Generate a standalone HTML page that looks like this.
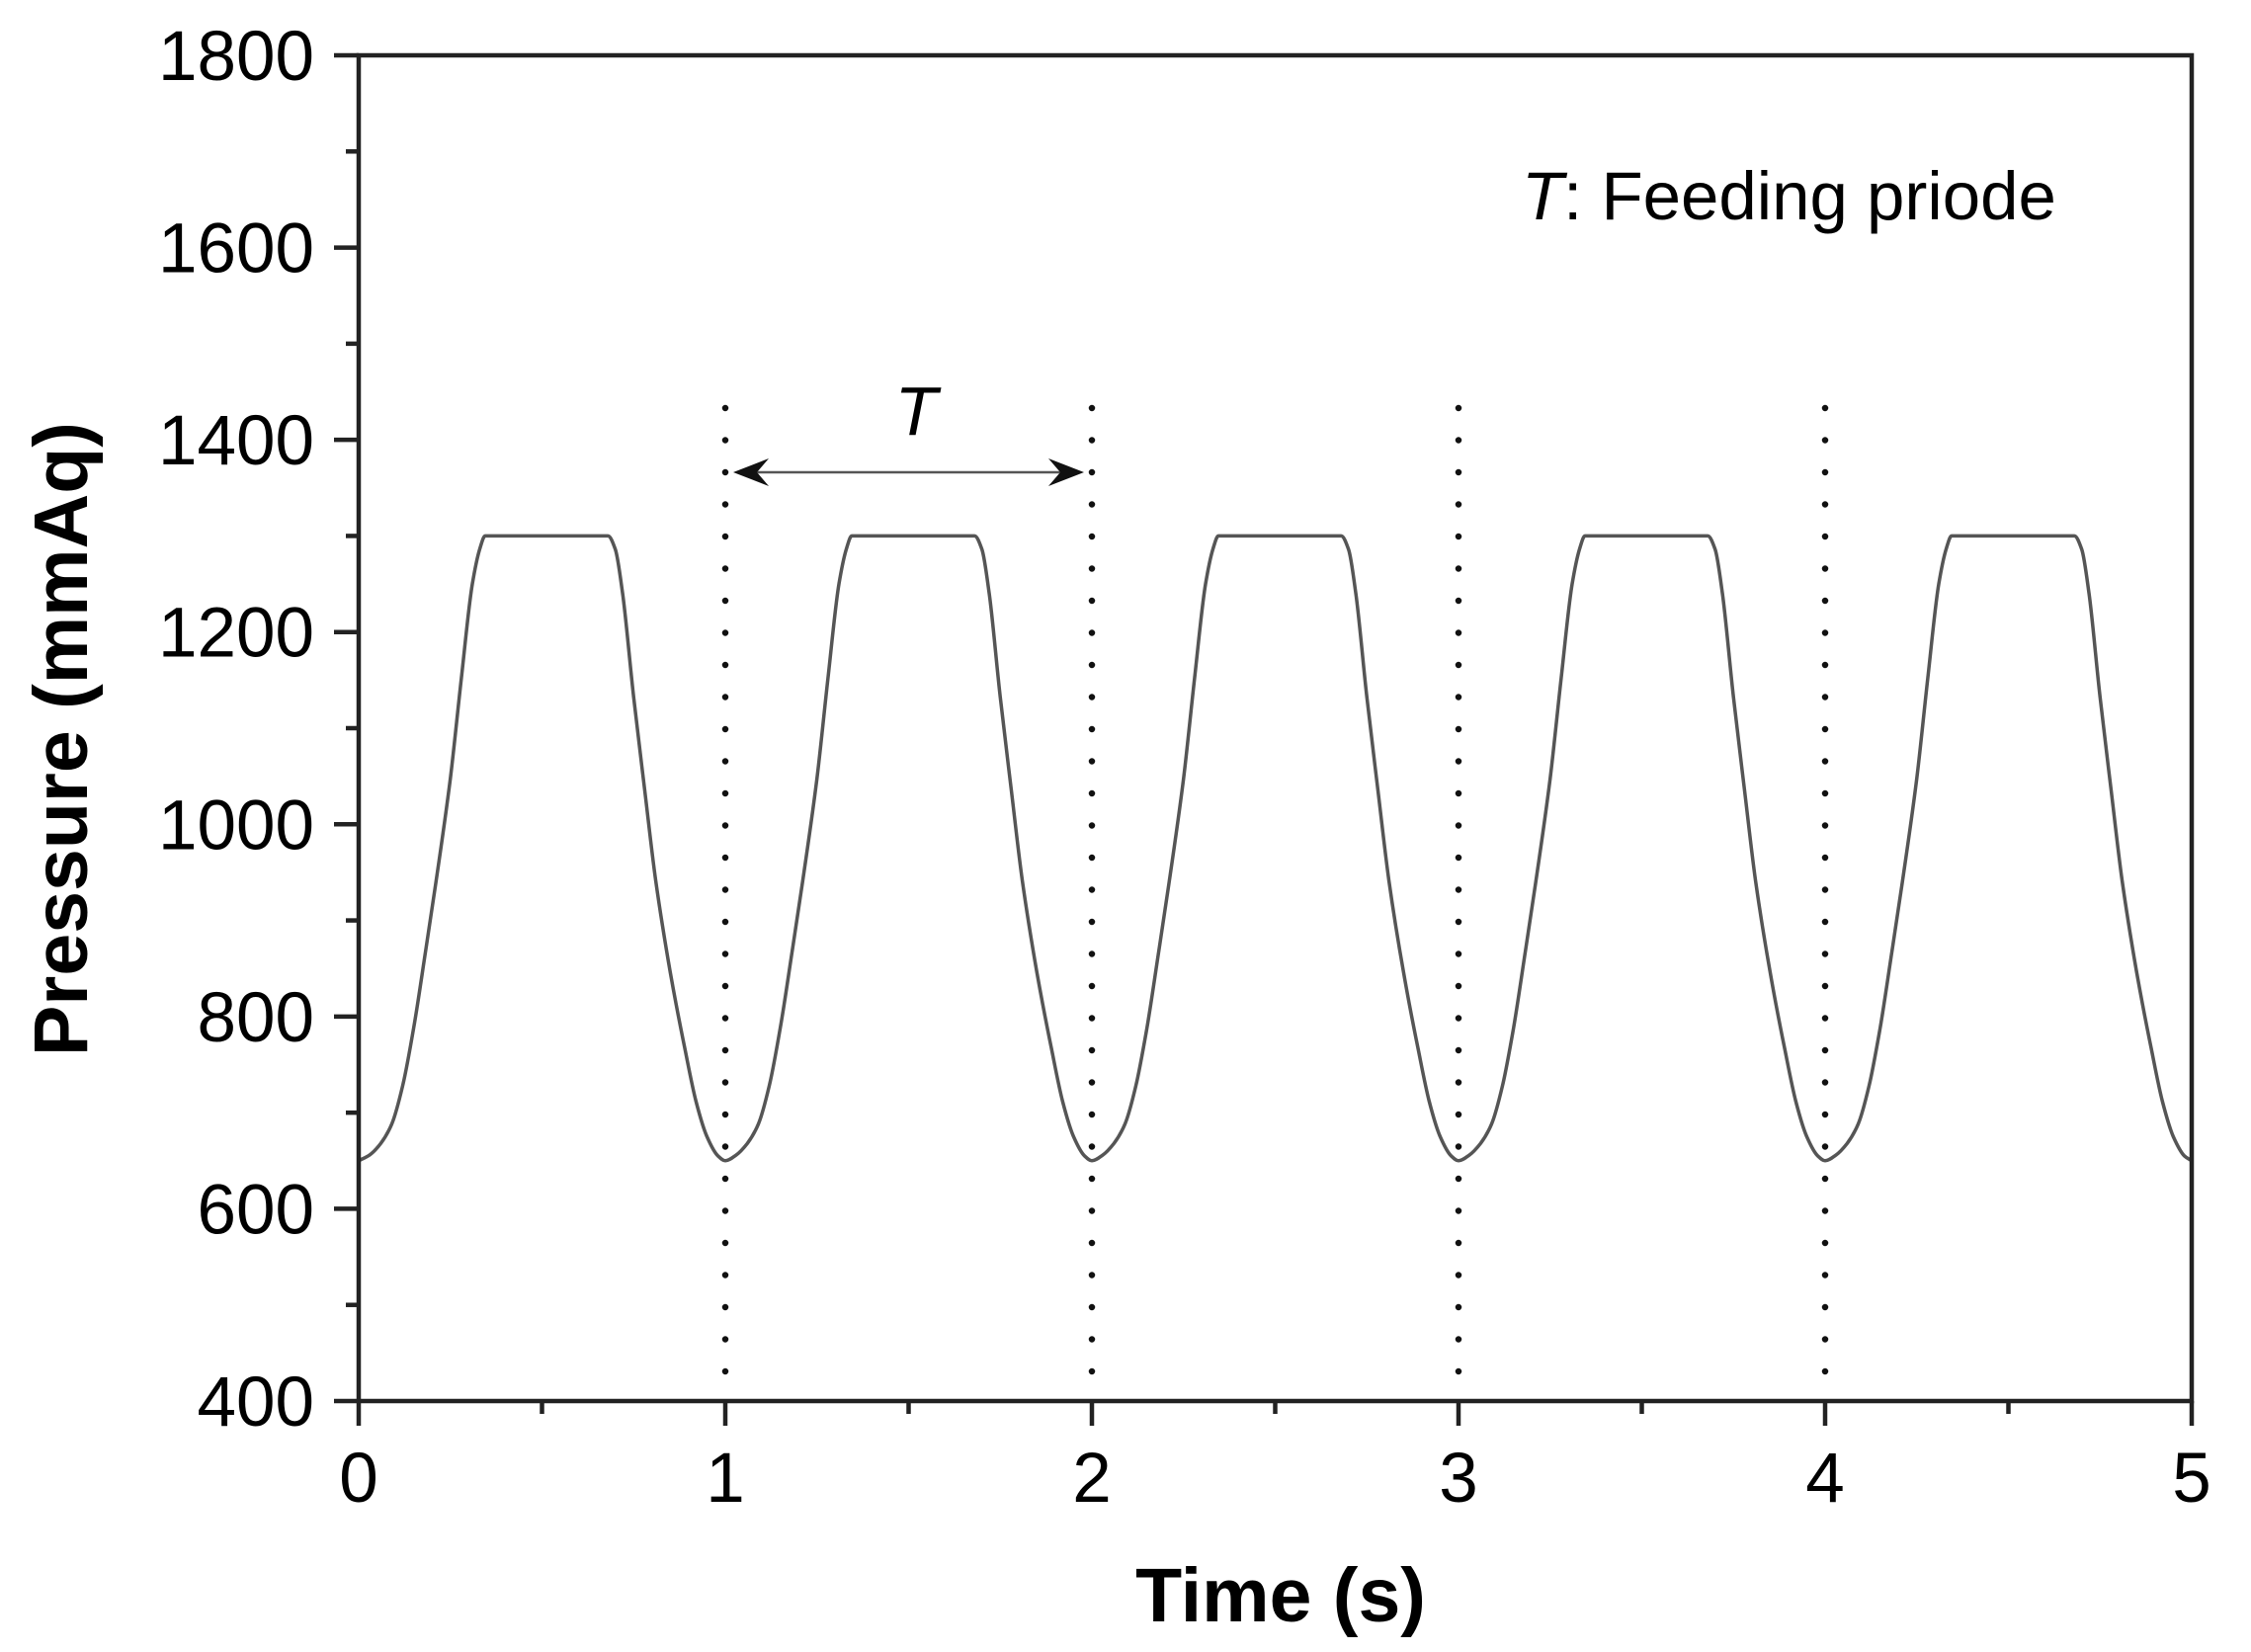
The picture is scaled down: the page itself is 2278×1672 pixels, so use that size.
<!DOCTYPE html>
<html><head><meta charset="utf-8"><style>
html,body{margin:0;padding:0;background:#fff;}
svg{display:block;font-family:"Liberation Sans",Arial,sans-serif;}
</style></head><body>
<svg id="chart" width="2278" height="1672" viewBox="0 0 2278 1672" xmlns="http://www.w3.org/2000/svg">
<rect width="2278" height="1672" fill="#fff"/>
<g id="plot"></g>
</svg>
<script>
const times = [
 0,0.03,0.06,0.09,0.12,0.15,0.18,0.21,0.25,0.28,0.31,0.33,0.345,0.68,0.70,0.72,0.75,0.78,0.81,0.85,0.89,0.92,0.95,0.98,
 1,1.03,1.06,1.09,1.12,1.15,1.18,1.21,1.25,1.28,1.31,1.33,1.345,1.68,1.70,1.72,1.75,1.78,1.81,1.85,1.89,1.92,1.95,1.98,
 2,2.03,2.06,2.09,2.12,2.15,2.18,2.21,2.25,2.28,2.31,2.33,2.345,2.68,2.70,2.72,2.75,2.78,2.81,2.85,2.89,2.92,2.95,2.98,
 3,3.03,3.06,3.09,3.12,3.15,3.18,3.21,3.25,3.28,3.31,3.33,3.345,3.68,3.70,3.72,3.75,3.78,3.81,3.85,3.89,3.92,3.95,3.98,
 4,4.03,4.06,4.09,4.12,4.15,4.18,4.21,4.25,4.28,4.31,4.33,4.345,4.68,4.70,4.72,4.75,4.78,4.81,4.85,4.89,4.92,4.95,4.98,5
];
const pressures = [
 650,656,668,688,728,788,862,938,1048,1152,1250,1286,1300,1300,1286,1240,1132,1036,942,846,766,712,675,655,
 650,656,668,688,728,788,862,938,1048,1152,1250,1286,1300,1300,1286,1240,1132,1036,942,846,766,712,675,655,
 650,656,668,688,728,788,862,938,1048,1152,1250,1286,1300,1300,1286,1240,1132,1036,942,846,766,712,675,655,
 650,656,668,688,728,788,862,938,1048,1152,1250,1286,1300,1300,1286,1240,1132,1036,942,846,766,712,675,655,
 650,656,668,688,728,788,862,938,1048,1152,1250,1286,1300,1300,1286,1240,1132,1036,942,846,766,712,675,655,650
];
const yTicks = [400,600,800,1000,1200,1400,1600,1800];
const yMinor = [500,700,900,1100,1300,1500,1700];
const xTicks = [0,1,2,3,4,5];
const xMinor = [0.5,1.5,2.5,3.5,4.5];
const periodMarks = [1,2,3,4];

const X0=363, X1=2218, Y0=1418, Y1=56;
const xs = t => X0 + (t-0)/(5-0)*(X1-X0);
const ys = v => Y0 - (v-400)/(1800-400)*(Y0-Y1);
const NS="http://www.w3.org/2000/svg";
const g=document.getElementById('plot');
function mk(tag,attrs,parent){const e=document.createElementNS(NS,tag);for(const k in attrs)e.setAttribute(k,attrs[k]);(parent||g).appendChild(e);return e;}

periodMarks.forEach(t=>{
  const l=mk('line',{x1:xs(t),x2:xs(t),y1:413,y2:Y0-6,stroke:'#111','stroke-width':6.5,'stroke-linecap':'round','stroke-dasharray':'0 32.5'});
  
  
});

// monotone cubic (Fritsch-Carlson) interpolation through data
const n=times.length;
const dk=[],m=new Array(n).fill(0);
for(let i=0;i<n-1;i++)dk.push((pressures[i+1]-pressures[i])/(times[i+1]-times[i]));
m[0]=dk[0];m[n-1]=dk[n-2];
for(let i=1;i<n-1;i++){
  if(dk[i-1]*dk[i]<=0)m[i]=0;
  else{const h0=times[i]-times[i-1],h1=times[i+1]-times[i];const w1=2*h1+h0,w2=h1+2*h0;m[i]=(w1+w2)/(w1/dk[i-1]+w2/dk[i]);}
}
let d='M'+xs(times[0]).toFixed(1)+','+ys(pressures[0]).toFixed(1);
for(let i=0;i<n-1;i++){
  const h=times[i+1]-times[i];
  const c1t=times[i]+h/3,c1v=pressures[i]+m[i]*h/3;
  const c2t=times[i+1]-h/3,c2v=pressures[i+1]-m[i+1]*h/3;
  d+='C'+xs(c1t).toFixed(1)+','+ys(c1v).toFixed(1)+' '+xs(c2t).toFixed(1)+','+ys(c2v).toFixed(1)+' '+xs(times[i+1]).toFixed(1)+','+ys(pressures[i+1]).toFixed(1);
}
const curve=mk('path',{d:d,fill:'none',stroke:'#555','stroke-width':3.5,'stroke-linejoin':'round'});



const frame=mk('rect',{x:X0,y:Y1,width:X1-X0,height:Y0-Y1,fill:'none',stroke:'#222','stroke-width':4.5});



yTicks.forEach(v=>{
  const tk=mk('line',{x1:X0-25,x2:X0,y1:ys(v),y2:ys(v),stroke:'#222','stroke-width':4.5});
  
  
  const tx=mk('text',{x:318,y:ys(v)+25,'text-anchor':'end','font-size':71,fill:'#000'});
  tx.textContent=v;
  
  
});
yMinor.forEach(v=>{
  const tk=mk('line',{x1:X0-13,x2:X0,y1:ys(v),y2:ys(v),stroke:'#222','stroke-width':4.5});
  
  
});
xTicks.forEach(t=>{
  const tk=mk('line',{x1:xs(t),x2:xs(t),y1:Y0,y2:Y0+25,stroke:'#222','stroke-width':4.5});
  
  
  const tx=mk('text',{x:xs(t),y:1520,'text-anchor':'middle','font-size':71,fill:'#000'});
  tx.textContent=t;
  
  
});
xMinor.forEach(t=>{
  const tk=mk('line',{x1:xs(t),x2:xs(t),y1:Y0,y2:Y0+13,stroke:'#222','stroke-width':4.5});
  
  
});

const ay=478, ax1=xs(1)+8, ax2=xs(2)-8;
const al=mk('line',{x1:ax1+10,x2:ax2-10,y1:ay,y2:ay,stroke:'#555','stroke-width':2.5});


const ah1=mk('path',{d:`M${ax1},${ay} L${ax1+36},${ay-14} L${ax1+24},${ay} L${ax1+36},${ay+14} Z`,fill:'#111'});


const ah2=mk('path',{d:`M${ax2},${ay} L${ax2-36},${ay-14} L${ax2-24},${ay} L${ax2-36},${ay+14} Z`,fill:'#111'});


const tl=mk('text',{x:927,y:440,'text-anchor':'middle','font-size':70,'font-style':'italic',fill:'#000'});
tl.textContent='T';



const an=mk('text',{x:1540,y:222,'font-size':69,fill:'#000'});
an.innerHTML='<tspan font-style="italic">T</tspan>: Feeding priode';



const xt=mk('text',{x:1296,y:1641,'text-anchor':'middle','font-size':77,'font-weight':'bold',fill:'#000'});
xt.textContent='Time (s)';


const yt=mk('text',{x:0,y:0,'text-anchor':'middle','font-size':77,'font-weight':'bold',fill:'#000',transform:'translate(88,748) rotate(-90)'});
yt.textContent='Pressure (mmAq)';


</script>
</body></html>
